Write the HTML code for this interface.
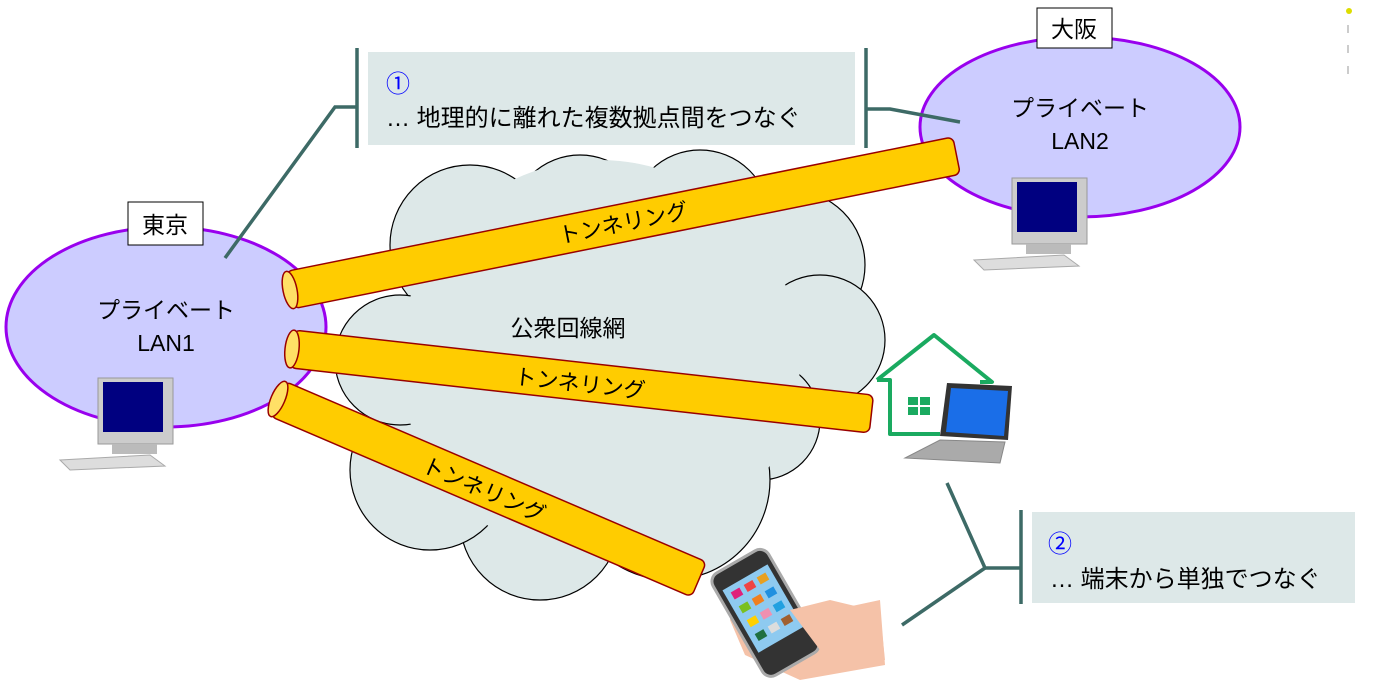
<!DOCTYPE html>
<html><head><meta charset="utf-8"><style>
body{margin:0;background:#fff;}
svg text{font-family:"Liberation Sans","Noto Sans CJK JP",sans-serif;}
</style></head><body>
<svg width="1375" height="688" viewBox="0 0 1375 688" xmlns="http://www.w3.org/2000/svg">
<!-- cloud -->
<g fill="#dde8e8" stroke="#000" stroke-width="1.2">
<circle cx="470" cy="245" r="80"/>
<circle cx="580" cy="225" r="70"/>
<circle cx="700" cy="220" r="70"/>
<circle cx="790" cy="265" r="75"/>
<circle cx="820" cy="340" r="65"/>
<circle cx="760" cy="420" r="60"/>
<circle cx="670" cy="480" r="100"/>
<circle cx="540" cy="520" r="80"/>
<circle cx="430" cy="470" r="80"/>
<circle cx="400" cy="360" r="65"/>
</g>
<g fill="#dde8e8">
<circle cx="600" cy="360" r="200"/>
</g>
<text x="568" y="336" font-size="23" text-anchor="middle">公衆回線網</text>
<!-- ellipses -->
<ellipse cx="166" cy="327" rx="160" ry="100" fill="#ccccff" stroke="#9900ee" stroke-width="3"/>
<ellipse cx="1080" cy="127" rx="160" ry="90" fill="#ccccff" stroke="#9900ee" stroke-width="3"/>
<rect x="128" y="202" width="75" height="43" fill="#fff" stroke="#000"/>
<text x="165" y="233" font-size="23" text-anchor="middle">東京</text>
<rect x="1037" y="8" width="75" height="40" fill="#fff" stroke="#000"/>
<text x="1074" y="37" font-size="23" text-anchor="middle">大阪</text>
<text x="166" y="318" font-size="23" text-anchor="middle">プライベート</text>
<text x="166" y="351" font-size="23" text-anchor="middle">LAN1</text>
<text x="1080" y="116" font-size="23" text-anchor="middle">プライベート</text>
<text x="1080" y="149" font-size="23" text-anchor="middle">LAN2</text>
<!-- computers -->
<g id="pc">
<rect x="98" y="378" width="75" height="66" fill="#ccc" stroke="#999"/>
<rect x="103" y="382" width="60" height="50" fill="#000080"/>
<rect x="112" y="444" width="45" height="10" fill="#bbb"/>
<polygon points="60,460 150,455 165,466 70,470" fill="#ddd" stroke="#aaa"/>
</g>
<use href="#pc" transform="translate(914,-200)"/>
<!-- callout 1 -->
<rect x="368" y="52" width="487" height="93" fill="#dde8e8"/>
<g stroke="#3d6a66" stroke-width="3.5" fill="none">
<line x1="357" y1="48" x2="357" y2="148"/>
<polyline points="357,107 335,107 225,258"/>
<line x1="866" y1="48" x2="866" y2="148"/>
<polyline points="866,109 890,109 960,122"/>
<line x1="1021" y1="510" x2="1021" y2="604"/>
<polyline points="947,483 985,568 1021,568"/>
<line x1="985" y1="568" x2="902" y2="625"/>
</g>
<text x="386" y="92" font-size="24" fill="#0000ff">①</text>
<text x="386" y="126" font-size="24">… 地理的に離れた複数拠点間をつなぐ</text>
<rect x="1032" y="512" width="323" height="91" fill="#dde8e8"/>
<text x="1048" y="552" font-size="24" fill="#0000ff">②</text>
<text x="1050" y="587" font-size="24">… 端末から単独でつなぐ</text>
<!-- tunnels -->
<g stroke="#990000" stroke-width="1.5">
<g transform="translate(290,290) rotate(-11.4)">
<rect x="0" y="-19" width="680" height="38" rx="6" fill="#ffcc00"/>
<ellipse cx="0" cy="0" rx="7" ry="19" fill="#ffe066"/>
<text x="340" y="8" font-size="22" text-anchor="middle" stroke="none" fill="#000">トンネリング</text>
</g>
<g transform="translate(292,349) rotate(6.4)">
<rect x="0" y="-19" width="583" height="38" rx="6" fill="#ffcc00"/>
<ellipse cx="0" cy="0" rx="7" ry="19" fill="#ffe066"/>
<text x="290" y="10" font-size="22" text-anchor="middle" stroke="none" fill="#000">トンネリング</text>
</g>
<g transform="translate(278,399) rotate(23.2)">
<rect x="0" y="-19" width="458" height="38" rx="6" fill="#ffcc00"/>
<ellipse cx="0" cy="0" rx="7" ry="19" fill="#ffe066"/>
<text x="225" y="10" font-size="22" text-anchor="middle" stroke="none" fill="#000">トンネリング</text>
</g>
</g>
<!-- house -->
<g stroke="#1aaa60" stroke-width="4" fill="none" stroke-linejoin="round">
<polyline points="877,380 934,335 992,382 980,382"/>
<polyline points="877,380 890,380 890,434 940,434"/>
</g>
<g fill="#1aaa60"><rect x="908" y="397" width="10" height="8"/><rect x="920" y="397" width="10" height="8"/><rect x="908" y="407" width="10" height="8"/><rect x="920" y="407" width="10" height="8"/></g>
<!-- laptop -->
<polygon points="947,383 1012,386 1008,440 940,436" fill="#333"/>
<polygon points="951,388 1008,391 1004,436 946,432" fill="#1a6ee8"/>
<polygon points="940,440 1005,442 1000,463 905,458" fill="#aaa" stroke="#888"/>
<!-- phone and hands -->
<polygon points="735,600 810,615 880,600 885,665 800,680 745,655 730,620" fill="#f5c2a8"/>
<g transform="translate(765,612) rotate(-30)">
<rect x="-32" y="-58" width="64" height="118" rx="10" fill="#333" stroke="#aaa" stroke-width="3"/>
<rect x="-26" y="-40" width="52" height="72" fill="#8ecaf0"/>
<rect x="-20" y="-34" width="10" height="8" fill="#e0207a"/><rect x="-5" y="-34" width="10" height="8" fill="#ee4444"/><rect x="10" y="-34" width="10" height="8" fill="#e8a020"/>
<rect x="-20" y="-18" width="10" height="8" fill="#7ac020"/><rect x="-5" y="-18" width="10" height="8" fill="#f08020"/><rect x="10" y="-18" width="10" height="8" fill="#2090e0"/>
<rect x="-20" y="-2" width="10" height="8" fill="#ffd000"/><rect x="-5" y="-2" width="10" height="8" fill="#f090b0"/><rect x="10" y="-2" width="10" height="8" fill="#20a0e0"/>
<rect x="-20" y="14" width="10" height="8" fill="#207040"/><rect x="-5" y="14" width="10" height="8" fill="#ddd"/><rect x="10" y="14" width="10" height="8" fill="#a06030"/>
</g>
<polygon points="790,610 830,600 880,612 885,660 820,650" fill="#f5c2a8"/>
<!-- marker top right -->
<circle cx="1349" cy="11" r="3" fill="#dd0"/>
<g stroke="#ccc" stroke-width="2"><line x1="1348" y1="25" x2="1348" y2="33"/><line x1="1348" y1="45" x2="1348" y2="53"/><line x1="1348" y1="66" x2="1348" y2="74"/></g>
</svg>
</body></html>
